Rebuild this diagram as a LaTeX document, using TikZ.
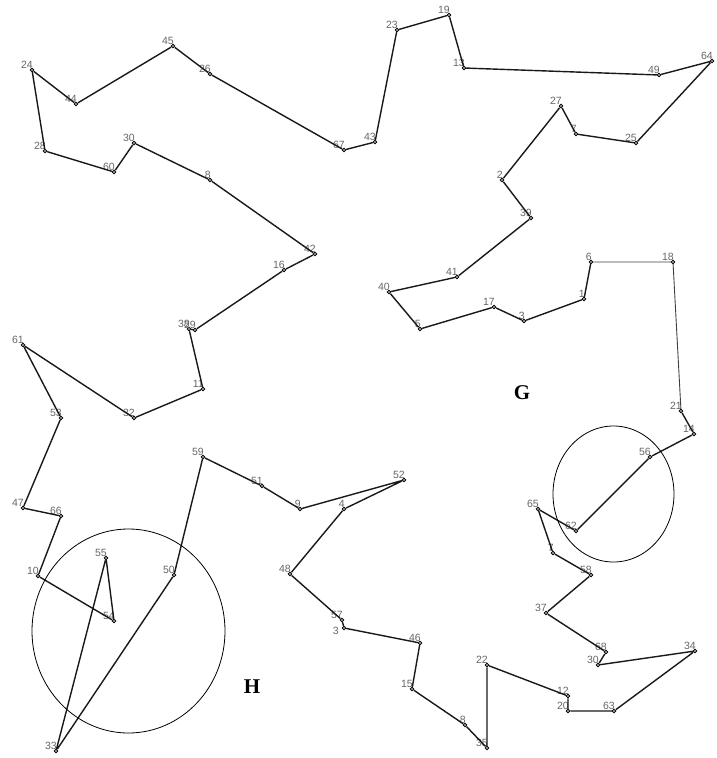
\documentclass[tikz,border=0pt]{standalone}
\usepackage{fontspec}
\setmainfont{Liberation Serif}
\setsansfont{Liberation Sans}
\begin{document}
\begin{tikzpicture}[x=1pt,y=-1pt,
  stop/.style={circle,draw,fill=white,inner sep=0pt,minimum size=3.6pt,line width=0.9pt},
  tag/.style={anchor=south east,inner sep=0pt,text=black!60,
    font=\sffamily\fontsize{10.5}{11}\selectfont},
  tour/.style={line width=1.4pt,black!90},
  thin tour/.style={line width=0.9pt,black!75},
  zone/.style={line width=0.8pt,black},
  region/.style={font=\rmfamily\bfseries\fontsize{21}{21}\selectfont}]
\useasboundingbox (0,0) rectangle (717,758);
% stops: name, position, printed number
\foreach \n/\x/\y/\t in {
  p24/32/70/24, p44/76/104/44, p45/173/46/45, p26/210/74/26,
  p67/344/150/67, p43/375/142/43, p23/397/30/23, p19/449/15/19,
  p13/464/68/13, p49/659/75/49, p64/712/61/64, p25/636/143/25,
  p7a/576/134/7, p27/561/106/27, p2/502/180/2, p39/531/218/39,
  p41/457/277/41, p40/389/292/40, p5/420/329/5, p17/494/307/17,
  p3/524/321/3, p1/584/299/1, p6/591/262/6, p18/673/262/18,
  p21/681/411/21, p14/694/434/14, p56/650/457/56, p62/576/531/62,
  p65/538/509/65, p7b/553/553/7, p58/591/575/58, p37/546/613/37,
  p68/606/652/68, p30/598/665/30, p34/695/651/34, p63/614/711/63,
  p20/568/711/20, p12/568/696/12, p22/487/665/22, p35/487/748/35,
  p8/465/725/8, p15/412/689/15, p46/420/643/46,
  p57/342/620/57, p48/290/574/48, p4/344/509/4, p52/404/480/52,
  p9/300/509/9, p51/262/486/51, p59/203/457/59, p50/174/575/50,
  p33/56/751/33, p55/106/558/55, p54/114/621/54, p10/38/576/10,
  p66/61/516/66, p47/23/508/47, p53/61/418/53, p61/23/345/61,
  p32/134/418/32, p11/203/389/11, p38/189/329/38, p29/195/330/29,
  p16/284/270/16, p42/315/254/42, p8b/210/180/8, p30b/134/143/30,
  p60/114/172/60, p28/45/151/28}
{
  \node[stop] (\n) at (\x,\y) {};
  \node[tag] at (\x+1,\y-1) {\t};
}
% this stop sits right under 57, so its number goes to the left
\node[stop] (p31) at (344,628) {};
\node[tag,anchor=east] at (339,631) {3};
% the tour
\draw[tour] (p24) -- (p44) -- (p45) -- (p26) -- (p67) -- (p43) -- (p23)
  -- (p19) -- (p13) -- (p49) -- (p64) -- (p25) -- (p7a) -- (p27) -- (p2)
  -- (p39) -- (p41) -- (p40) -- (p5) -- (p17) -- (p3) -- (p1) -- (p6);
\draw[thin tour] (p6) -- (p18) -- (p21);
\draw[tour] (p21) -- (p14) -- (p56) -- (p62) -- (p65) -- (p7b) -- (p58)
  -- (p37) -- (p68) -- (p30) -- (p34) -- (p63) -- (p20) -- (p12) -- (p22)
  -- (p35) -- (p8) -- (p15) -- (p46) -- (p31) -- (p57) -- (p48) -- (p4)
  -- (p52) -- (p9) -- (p51) -- (p59) -- (p50) -- (p33) -- (p55) -- (p54)
  -- (p10) -- (p66) -- (p47) -- (p53) -- (p61) -- (p32) -- (p11) -- (p38)
  -- (p29) -- (p16) -- (p42) -- (p8b) -- (p30b) -- (p60) -- (p28) -- (p24);
% highlighted zones
\draw[zone] (613.5,494) ellipse [x radius=60.5, y radius=68];
\draw[zone] (128.5,631) ellipse [x radius=96.5, y radius=102];
\node[region] (G) at (522,393) {G};
\node[region] (H) at (252,687) {H};
\end{tikzpicture}
\end{document}
